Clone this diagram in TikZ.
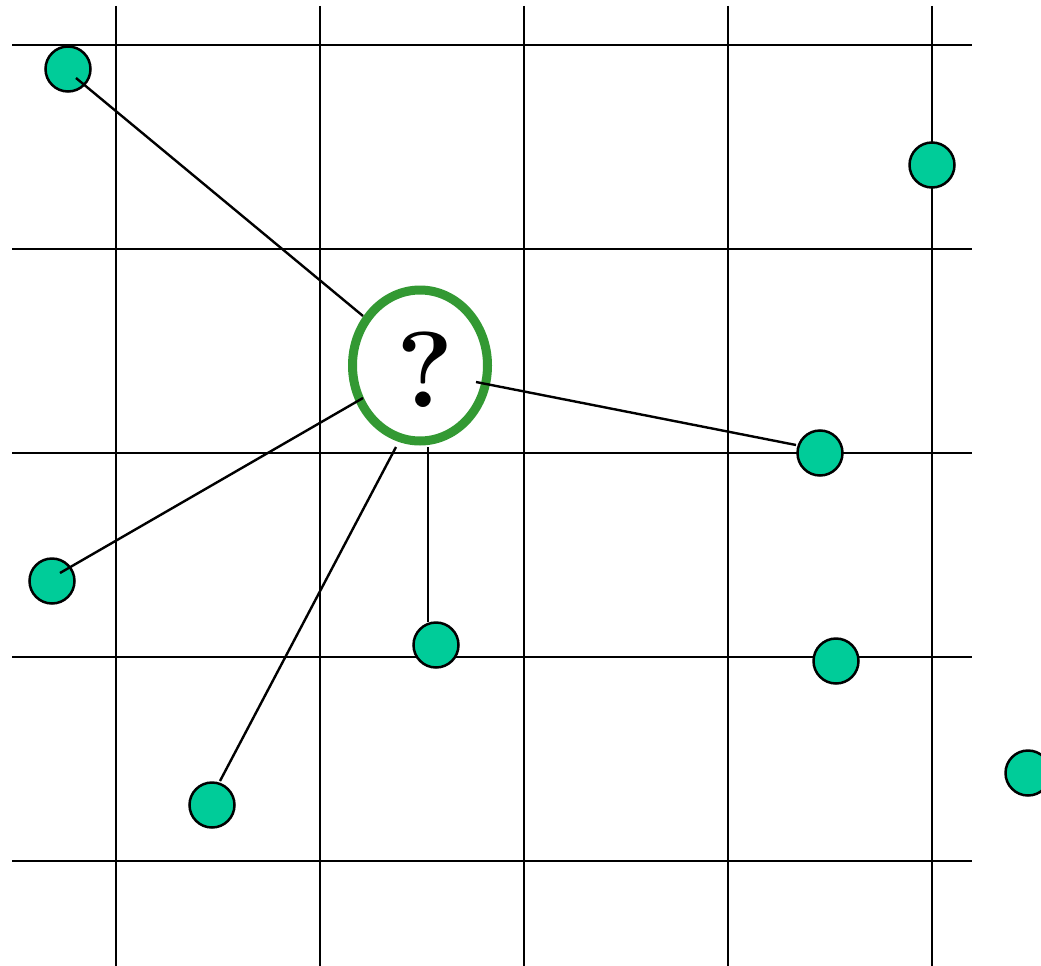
\documentclass[tikz,border=0pt]{standalone}
\begin{document}
\begin{tikzpicture}[x=1pt,y=-1pt,
  gridline/.style={line width=2.4pt,black},
  conn/.style={line width=2.4pt,black},
  dot/.style={circle,draw=black,line width=2.5pt,fill=dotfill,minimum size=45pt,inner sep=0pt},
  qmark/.style={inner sep=0pt,font=\fontsize{108}{108}\selectfont\bfseries}
]
\definecolor{dotfill}{HTML}{00CC99}
\definecolor{qgreen}{HTML}{339933}
\useasboundingbox (0,0) rectangle (1041,966);
\clip (0,0) rectangle (1041,966);
% grid
\foreach \x in {116,320,524,728,932} \draw[gridline] (\x,6) -- (\x,966);
\foreach \y in {45,249,453,657,861} \draw[gridline] (12,\y) -- (972,\y);
% points
\node[dot] (p1) at (68,69) {};
\node[dot] (p2) at (932,165) {};
\node[dot] (p3) at (820,453) {};
\node[dot] (p4) at (52,581) {};
\node[dot] (p5) at (436,645) {};
\node[dot] (p6) at (836,661) {};
\node[dot] (p7) at (212,805) {};
\node[dot] (p8) at (1028,773) {};
% query ellipse
\draw[qgreen,line width=9pt] (420,365.5) ellipse [x radius=67.5,y radius=75.5];
\node[qmark] (q) at (425,370) {?};
% connector end points
\coordinate (a1) at (76,78);   \coordinate (b1) at (363,316);
\coordinate (a2) at (476,382); \coordinate (b2) at (796,445);
\coordinate (a3) at (363,398); \coordinate (b3) at (60,573);
\coordinate (a4) at (396,447); \coordinate (b4) at (220,781);
\coordinate (a5) at (428,447); \coordinate (b5) at (428,622);
\draw[conn] (a1) -- (b1);
\draw[conn] (a2) -- (b2);
\draw[conn] (a3) -- (b3);
\draw[conn] (a4) -- (b4);
\draw[conn] (a5) -- (b5);
\end{tikzpicture}
\end{document}
